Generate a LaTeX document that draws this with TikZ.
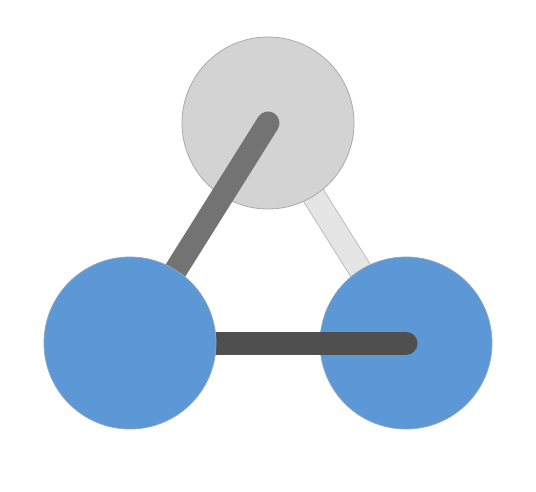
\documentclass[tikz,border=0pt]{standalone}
\definecolor{nodeblue}{HTML}{5B98D5}
\definecolor{nodegray}{HTML}{D3D3D3}
\definecolor{nodegrayb}{HTML}{AAAAAA}
\definecolor{nodeblueb}{HTML}{8FA6BD}
\definecolor{edgemid}{HTML}{737373}
\definecolor{edgedark}{HTML}{4F4F4F}
\definecolor{edgelight}{HTML}{E5E5E5}
\definecolor{edgelightb}{HTML}{BDBDBD}
\begin{document}
\begin{tikzpicture}[x=1pt,y=-1pt,
  vert/.style={circle,minimum size=172pt,inner sep=0pt,line width=0.8pt},
  bluev/.style={vert,fill=nodeblue,draw=nodeblueb},
  grayv/.style={vert,fill=nodegray,draw=nodegrayb},
  edgebar/.style={line width=23pt,line cap=round}]
\useasboundingbox (0,0) rectangle (536,491);
\coordinate (ct) at (268,123);
\coordinate (cl) at (130,343);
\coordinate (cr) at (406,343);
% light edge behind everything
\draw[line width=24pt,edgelightb] (ct) -- (cr);
\draw[line width=22pt,edgelight] (ct) -- (cr);
\node[grayv] (t) at (ct) {};
\node[bluev] (r) at (cr) {};
\draw[edgebar,edgemid] (t.center) -- (cl);
\draw[edgebar,edgedark] (cl) -- (r.center);
\node[bluev] (l) at (cl) {};
\end{tikzpicture}
\end{document}
